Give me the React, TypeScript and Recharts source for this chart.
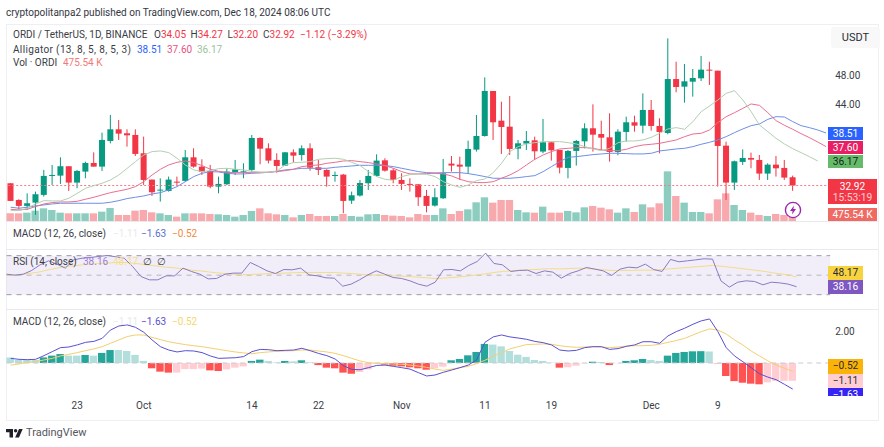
import React from "react";
import {
  ComposedChart,
  Bar,
  Line,
  Cell,
  XAxis,
  YAxis,
  ReferenceLine,
  ReferenceArea,
} from "recharts";

// ORDI / USDT daily, Sep 15 - Dec 18 2024
const opens = [
  33.23, 30.95, 30.14, 30.59, 31.64, 34.27, 34.27, 35.55, 33.32, 34.82,
  36.0, 35.5, 39.0, 40.59, 40.05, 39.82, 37.32, 33.73, 32.27, 32.18,
  33.45, 33.55, 36.77, 35.5, 34.91, 32.77, 33.09, 34.77, 34.77, 35.05,
  39.41, 38.0, 36.41, 35.64, 37.45, 37.09, 38.0, 35.41, 35.05, 34.23,
  34.41, 30.86, 31.55, 33.23, 34.23, 36.36, 35.0, 33.68, 33.14, 33.09,
  31.5, 30.18, 31.18, 35.91, 35.77, 35.5, 37.82, 39.68, 45.82, 41.77,
  40.95, 37.95, 38.64, 39.09, 37.55, 38.82, 37.77, 35.32, 37.64, 38.95,
  40.73, 39.95, 39.5, 37.5, 40.23, 41.55, 41.09, 43.23, 41.05, 40.09,
  47.45, 46.41, 47.09, 47.55, 48.73, 48.59, 38.36, 33.32, 36.14, 36.68,
  36.41, 34.55, 35.77, 35.32, 34.05,
];
const highs = [
  33.23, 31.05, 31.86, 32.09, 35.05, 35.73, 36.77, 35.55, 35.05, 36.18,
  37.45, 40.14, 42.55, 41.86, 40.59, 40.59, 39.59, 33.73, 33.91, 34.14,
  34.14, 37.77, 38.0, 36.5, 35.73, 34.14, 35.27, 36.41, 35.95, 39.82,
  39.5, 38.68, 37.32, 37.5, 37.86, 38.41, 38.68, 36.41, 35.14, 34.82,
  34.5, 32.09, 33.68, 35.05, 37.18, 36.64, 35.27, 34.59, 33.91, 33.09,
  32.32, 32.55, 36.55, 36.95, 36.86, 39.05, 42.55, 47.68, 45.82, 44.36,
  45.14, 39.14, 40.36, 39.59, 42.0, 38.91, 37.77, 37.77, 39.14, 41.41,
  44.0, 41.77, 42.77, 40.59, 42.32, 42.45, 45.5, 44.59, 42.09, 53.0,
  49.82, 49.5, 48.82, 50.59, 49.82, 48.59, 38.91, 36.32, 37.86, 37.41,
  37.09, 35.95, 36.95, 36.41, 34.27,
];
const lows = [
  30.82, 29.68, 29.59, 28.91, 31.41, 33.0, 33.14, 32.18, 32.55, 33.91,
  35.5, 34.91, 38.68, 39.14, 38.23, 36.95, 33.0, 31.5, 30.73, 32.09,
  32.91, 33.45, 35.36, 34.36, 32.55, 31.86, 33.0, 34.36, 33.91, 34.82,
  35.82, 35.95, 34.68, 35.59, 36.05, 36.32, 34.95, 34.36, 32.77, 33.45,
  29.14, 30.41, 31.41, 32.32, 34.14, 34.82, 33.23, 32.32, 32.09, 30.14,
  29.27, 30.05, 31.09, 34.82, 33.68, 34.5, 37.55, 39.59, 39.14, 37.23,
  37.09, 36.5, 37.77, 36.41, 37.32, 36.32, 34.59, 33.91, 35.64, 38.0,
  37.55, 37.77, 36.18, 37.05, 38.91, 40.27, 40.05, 40.41, 37.32, 39.91,
  45.64, 44.23, 45.05, 47.18, 46.64, 32.77, 30.95, 32.32, 35.73, 35.27,
  33.68, 33.68, 34.14, 33.68, 32.2,
];
const closes = [
  30.82, 30.14, 30.5, 31.73, 34.23, 34.36, 35.55, 33.32, 34.91, 36.0,
  35.5, 39.14, 40.59, 40.0, 39.77, 37.23, 33.68, 32.0, 32.36, 33.73,
  33.36, 36.77, 35.5, 34.77, 32.77, 33.14, 34.82, 35.14, 34.86, 39.41,
  37.95, 36.32, 35.59, 37.45, 37.0, 38.0, 35.36, 35.05, 34.14, 34.36,
  30.82, 31.59, 33.27, 34.23, 36.32, 34.95, 33.68, 33.14, 33.05, 31.32,
  30.14, 31.32, 34.59, 35.64, 35.5, 37.91, 39.68, 45.82, 41.55, 40.91,
  37.91, 38.68, 39.0, 37.59, 38.82, 37.73, 35.36, 37.64, 39.0, 40.73,
  39.86, 39.45, 37.5, 40.27, 41.55, 41.09, 43.23, 41.05, 40.23, 47.45,
  46.36, 47.14, 47.59, 48.73, 48.64, 38.32, 33.32, 36.23, 36.68, 36.45,
  34.55, 35.77, 35.27, 34.0, 32.92,
];
// volume in thousands
const volumes = [
  842, 842, 915, 1135, 1391, 1208, 915, 842, 842, 842,
  842, 1025, 1427, 659, 659, 1135, 1208, 952, 842, 659,
  476, 842, 842, 842, 769, 732, 659, 476, 659, 1098,
  1391, 842, 732, 659, 403, 659, 769, 549, 549, 549,
  769, 549, 476, 732, 769, 659, 586, 549, 403, 769,
  659, 659, 1391, 769, 1098, 1281, 2050, 2599, 2013, 2306,
  2306, 1208, 952, 915, 1574, 915, 915, 1098, 952, 1501,
  1647, 1464, 1281, 915, 1391, 988, 1830, 1501, 1940, 5453,
  2745, 2013, 988, 988, 842, 2379, 3038, 1757, 1208, 915,
  659, 549, 769, 659, 475.54,
];
// alligator lines run 4 days past the last candle
const jaw = [
  29.96, 29.82, 29.96, 30.14, 30.27, 30.41, 30.5, 30.5, 30.5, 30.5,
  30.5, 30.5, 30.64, 30.86, 31.14, 31.32, 31.5, 31.77, 31.95, 32.32,
  32.77, 33.45, 34.14, 34.59, 34.82, 34.77, 34.59, 34.5, 34.5, 34.59,
  34.64, 34.73, 34.86, 35.05, 35.14, 35.27, 35.27, 35.27, 35.27, 35.41,
  35.5, 35.59, 35.68, 35.68, 35.68, 35.64, 35.5, 35.27, 35.05, 34.82,
  34.68, 34.64, 34.68, 34.68, 34.68, 34.55, 34.36, 34.14, 33.91, 33.91,
  33.91, 34.0, 34.14, 34.27, 34.82, 35.5, 36.18, 36.77, 36.86, 37.0,
  37.14, 37.23, 37.32, 37.32, 37.27, 37.23, 37.23, 37.32, 37.64, 37.77,
  37.91, 38.0, 38.23, 38.55, 38.82, 39.14, 39.59, 40.14, 40.64, 41.09,
  41.32, 41.95, 42.32, 42.27, 41.64, 41.09, 40.82, 40.5, 40.09,
];
const teeth = [
  29.68, 29.59, 29.68, 30.05, 30.41, 30.59, 30.68, 30.68, 30.77, 31.05,
  31.32, 31.64, 31.95, 32.18, 32.41, 32.77, 33.45, 34.36, 35.14, 35.73,
  36.09, 36.27, 36.05, 35.64, 35.14, 34.86, 34.73, 34.68, 34.68, 34.73,
  34.73, 34.73, 34.82, 34.95, 35.14, 35.5, 35.64, 35.73, 35.95, 36.09,
  36.27, 36.32, 36.18, 36.05, 35.86, 35.64, 35.27, 34.82, 34.5, 34.5,
  34.55, 34.59, 34.5, 34.23, 33.77, 33.45, 33.32, 33.32, 33.45, 33.91,
  34.36, 34.95, 35.73, 36.5, 37.09, 37.55, 37.91, 38.0, 38.09, 38.09,
  38.0, 37.77, 37.68, 37.68, 37.86, 38.23, 38.45, 38.55, 38.68, 38.91,
  39.14, 39.59, 39.95, 40.05, 40.5, 41.5, 42.32, 42.86, 43.45, 44.05,
  43.86, 42.86, 41.77, 41.14, 40.59, 40.0, 39.45, 38.86, 38.23,
];
const lips = [
  29.5, 29.5, 29.82, 30.41, 30.86, 30.82, 30.82, 31.18, 31.86, 32.55,
  32.91, 33.23, 33.68, 34.36, 35.27, 36.18, 37.09, 37.55, 37.64, 37.41,
  36.64, 35.73, 35.05, 34.82, 34.95, 35.23, 35.27, 35.14, 35.05, 34.86,
  34.73, 34.73, 34.91, 35.73, 36.05, 36.09, 36.18, 36.5, 36.59, 36.64,
  36.5, 36.09, 35.64, 34.82, 34.14, 33.77, 33.64, 34.14, 34.41, 34.5,
  34.45, 34.14, 33.45, 33.0, 32.68, 33.0, 33.59, 33.82, 34.68, 35.95,
  37.55, 38.23, 38.59, 38.77, 38.91, 38.91, 38.91, 38.77, 38.59, 38.23,
  37.91, 37.68, 38.0, 38.77, 39.0, 39.0, 39.14, 39.5, 40.05, 40.64,
  40.82, 40.59, 41.64, 43.0, 43.77, 44.59, 45.5, 45.86, 44.59, 43.0,
  41.18, 40.27, 39.36, 38.59, 37.95, 37.41, 36.86, 36.27,
];
const rsi = [
  51.0, 50.0, 51.0, 54.8, 60.6, 64.7, 61.3, 57.2, 65.7, 67.4,
  68.1, 69.2, 70.2, 68.8, 67.4, 58.9, 48.6, 45.2, 45.2, 49.3,
  49.3, 57.2, 53.8, 51.0, 46.2, 46.6, 51.0, 52.1, 52.1, 63.0,
  58.9, 54.4, 51.7, 55.8, 55.5, 57.2, 50.3, 49.3, 47.3, 46.9,
  38.7, 40.8, 45.2, 50.3, 54.4, 51.0, 47.6, 46.6, 44.2, 40.8,
  38.7, 42.8, 55.5, 55.8, 54.4, 59.9, 64.0, 72.6, 62.0, 60.6,
  53.8, 54.8, 55.1, 51.7, 54.4, 53.1, 46.9, 51.7, 54.4, 57.9,
  56.2, 54.4, 49.7, 56.2, 58.2, 57.5, 61.3, 55.8, 53.8, 66.1,
  63.7, 64.7, 65.7, 66.8, 66.4, 44.2, 37.7, 42.8, 44.2, 43.5,
  40.1, 42.8, 42.1, 40.8, 38.16,
];
const rsiMa = [
  50.3, 50.3, 51.0, 52.1, 53.4, 55.5, 57.2, 58.9, 59.6, 60.6,
  61.3, 62.0, 62.3, 63.0, 63.0, 62.3, 61.3, 60.3, 59.2, 58.2,
  57.5, 56.5, 55.1, 54.4, 53.4, 52.4, 51.7, 51.0, 50.3, 50.7,
  51.0, 51.4, 51.7, 52.1, 52.4, 52.7, 52.7, 52.7, 52.7, 52.7,
  52.1, 51.7, 51.0, 50.3, 50.0, 49.7, 49.3, 49.0, 48.6, 47.9,
  47.3, 46.6, 46.9, 47.6, 48.3, 49.3, 50.3, 51.4, 52.7, 53.8,
  54.4, 55.1, 55.5, 55.8, 56.5, 56.5, 56.5, 56.8, 57.2, 56.8,
  56.2, 55.5, 54.8, 54.8, 54.8, 55.1, 55.1, 55.1, 55.8, 56.5,
  57.2, 57.9, 58.6, 59.2, 59.9, 59.2, 58.2, 57.2, 56.2, 55.1,
  54.1, 52.7, 51.4, 50.3, 48.17,
];
const macd = [
  0.29, 0.23, 0.21, 0.23, 0.46, 0.71, 0.96, 1.0, 1.13, 1.29,
  1.35, 1.54, 2.06, 2.31, 2.38, 2.23, 1.92, 1.44, 1.02, 0.81,
  0.69, 0.77, 0.75, 0.65, 0.44, 0.29, 0.31, 0.33, 0.4, 0.71,
  0.85, 0.83, 0.77, 0.79, 0.81, 0.92, 0.77, 0.6, 0.46, 0.25,
  -0.17, -0.4, -0.42, -0.29, -0.15, -0.13, -0.21, -0.29, -0.38, -0.6,
  -0.81, -0.75, -0.58, -0.44, -0.29, -0.13, 0.19, 1.29, 1.63, 1.75,
  1.63, 1.56, 1.48, 1.35, 1.27, 1.13, 0.81, 0.75, 0.79, 0.96,
  1.02, 1.02, 0.85, 0.9, 1.04, 1.13, 1.33, 1.33, 1.23, 1.69,
  1.96, 2.17, 2.42, 2.63, 2.75, 1.96, 0.96, 0.44, 0.08, -0.29,
  -0.67, -0.88, -1.04, -1.33, -1.63,
];
const signal = [
  -0.13, -0.06, 0.04, 0.08, 0.19, 0.29, 0.44, 0.54, 0.65, 0.77,
  0.88, 1.02, 1.23, 1.44, 1.65, 1.75, 1.75, 1.6, 1.46, 1.33,
  1.23, 1.15, 1.08, 1.02, 0.94, 0.85, 0.77, 0.69, 0.63, 0.58,
  0.65, 0.69, 0.73, 0.75, 0.77, 0.81, 0.81, 0.75, 0.69, 0.6,
  0.46, 0.29, 0.13, 0.02, -0.02, -0.04, -0.06, -0.08, -0.13, -0.19,
  -0.27, -0.38, -0.46, -0.38, -0.29, -0.21, -0.04, 0.17, 0.42, 0.65,
  0.88, 1.02, 1.15, 1.17, 1.19, 1.17, 1.08, 1.02, 0.98, 1.0,
  1.02, 1.0, 0.96, 1.0, 1.06, 1.08, 1.08, 1.1, 1.17, 1.29,
  1.4, 1.54, 1.75, 1.96, 2.13, 2.06, 1.81, 1.44, 1.13, 0.75,
  0.44, 0.13, -0.13, -0.33, -0.52,
];
const histogram = [
  0.35, 0.19, 0.19, 0.19, 0.35, 0.46, 0.56, 0.46, 0.46, 0.5,
  0.46, 0.63, 0.81, 0.81, 0.75, 0.5, 0.13, -0.33, -0.54, -0.6,
  -0.6, -0.38, -0.38, -0.35, -0.46, -0.5, -0.4, -0.29, -0.21, 0.13,
  0.21, 0.13, 0.04, 0.13, 0.1, 0.17, 0.04, -0.13, -0.29, -0.33,
  -0.6, -0.67, -0.56, -0.4, -0.04, -0.1, -0.17, -0.21, -0.27, -0.33,
  -0.42, -0.33, -0.23, 0.17, 0.25, 0.48, 0.69, 1.19, 1.15, 1.04,
  0.75, 0.52, 0.38, 0.19, 0.13, 0.02, -0.29, -0.27, -0.17, -0.02,
  0.08, 0.06, -0.13, -0.02, 0.13, 0.17, 0.25, 0.19, 0.13, 0.46,
  0.63, 0.69, 0.73, 0.74, 0.72, -0.02, -0.81, -1.13, -1.23, -1.29,
  -1.33, -1.21, -1.12, -1.11, -1.11,
];
const tickSlots = [8, 16, 29, 37, 47, 57, 65, 77, 85];
const tickNames = ["23", "Oct", "14", "22", "Nov", "11", "19", "Dec", "9"];
const SLOT_COUNT = 99;

const rows = Array.from({ length: SLOT_COUNT }, (_, i) => ({
  slot: i,
  open: opens[i],
  close: closes[i],
  high: highs[i],
  low: lows[i],
  range: i < opens.length ? [lows[i], highs[i]] : undefined,
  volume: volumes[i],
  jaw: jaw[i],
  teeth: teeth[i],
  lips: lips[i],
  rsi: rsi[i],
  rsiMa: rsiMa[i],
  macd: macd[i],
  signal: signal[i],
  histogram: histogram[i],
}));

const UP = "#089981";
const DOWN = "#f23645";
const WIDTH = 884;
const LEFT = 6.5;
const RIGHT = 53.8;
const FONT = "Roboto, sans-serif";

function Candle(props: any) {
  const { x, y, width, height, payload } = props;
  if (payload.open === undefined) return null;
  const k = height / (payload.high - payload.low);
  const top = y + (payload.high - Math.max(payload.open, payload.close)) * k;
  const bottom = y + (payload.high - Math.min(payload.open, payload.close)) * k;
  const fill = payload.close >= payload.open ? UP : DOWN;
  return (
    <g>
      <rect x={x + width / 2 - 0.5} y={y} width={1} height={height} fill={fill} />
      <rect x={x} y={top} width={width} height={Math.max(bottom - top, 1)} fill={fill} />
    </g>
  );
}

function histColor(i: number) {
  const v = histogram[i];
  const prev = i > 0 ? histogram[i - 1] : v;
  if (v >= 0) return v > prev ? "#26a69a" : "#b2dfdb";
  return v < prev ? "#ff5252" : "#ffcdd2";
}

function Txt({ x, y, color = "#3a3d46", size = 10, spacing = 0, children }: any) {
  return (
    <div
      style={{
        position: "absolute",
        left: x,
        top: y - 7,
        height: 14,
        lineHeight: "14px",
        fontSize: size,
        letterSpacing: spacing,
        fontFamily: FONT,
        color,
        whiteSpace: "nowrap",
      }}
    >
      {children}
    </div>
  );
}

function Tag({ top, height, bg, color = "#fff", width = 35, children }: any) {
  return (
    <div
      style={{
        position: "absolute",
        left: 828,
        top,
        width,
        height,
        background: bg,
        color,
        fontSize: 10.2,
        lineHeight: "13.5px",
        fontFamily: FONT,
        textAlign: "center",
        overflow: "hidden",
      }}
    >
      {children}
    </div>
  );
}

function Sep({ y }: { y: number }) {
  return (
    <div style={{ position: "absolute", left: 6, top: y, width: 872, height: 1, background: "#e9eaee" }} />
  );
}

function hiddenX(id: string) {
  return <XAxis xAxisId={id} dataKey="slot" hide />;
}

const axisTick = { fill: "#3a3d46", fontSize: 10, fontFamily: FONT };

export default function App() {
  return (
    <div style={{ position: "absolute", left: 0, top: 0, width: WIDTH, height: 447, background: "#fff", overflow: "hidden" }}>
      <Txt x={6} y={13} color="#33363f" size={10}>
        cryptopolitanpa2 published on TradingView.com, Dec 18, 2024 08:06 UTC
      </Txt>
      <div style={{ position: "absolute", left: 6, top: 24, width: 871, height: 395, border: "1px solid #eeeff2" }} />

      {/* price + volume */}
      <div style={{ position: "absolute", left: 0, top: 24 }}>
        <ComposedChart width={WIDTH} height={197} data={rows} margin={{ top: 0, right: 0, bottom: 0, left: LEFT }}>
          {hiddenX("vol")}
          {hiddenX("price")}
          <YAxis yAxisId="vol" hide domain={[0, 21630]} />
          <YAxis
            yAxisId="price"
            orientation="right"
            width={RIGHT}
            domain={[28.08, 54.96]}
            ticks={[44, 48]}
            tickFormatter={(v: number) => v.toFixed(2)}
            axisLine={false}
            tickLine={false}
            tickSize={0}
            tickMargin={5}
            tick={axisTick}
          />
          <Bar xAxisId="vol" yAxisId="vol" dataKey="volume" barSize={7.4} isAnimationActive={false}>
            {rows.map((r) => (
              <Cell key={r.slot} fill={r.close >= r.open ? "#8ccdc0" : "#f7a9ae"} />
            ))}
          </Bar>
          <ReferenceLine xAxisId="price" yAxisId="price" y={32.92} stroke="#f27b85" strokeDasharray="2 2" />
          <Bar xAxisId="price" yAxisId="price" dataKey="range" barSize={6} shape={Candle} isAnimationActive={false} />
          <Line xAxisId="price" yAxisId="price" dataKey="jaw" stroke="#6d8fe6" strokeWidth={1} dot={false} isAnimationActive={false} />
          <Line xAxisId="price" yAxisId="price" dataKey="teeth" stroke="#e8708f" strokeWidth={1} dot={false} isAnimationActive={false} />
          <Line xAxisId="price" yAxisId="price" dataKey="lips" stroke="#b3cfb2" strokeWidth={1} dot={false} isAnimationActive={false} />
        </ComposedChart>
      </div>

      {/* rsi */}
      <div style={{ position: "absolute", left: 0, top: 250 }}>
        <ComposedChart width={WIDTH} height={59} data={rows} margin={{ top: 0, right: RIGHT, bottom: 0, left: LEFT }}>
          <XAxis dataKey="slot" hide />
          <YAxis hide domain={[15.3, 75.8]} />
          <ReferenceArea y1={30} y2={70} fill="#7e57c2" fillOpacity={0.1} stroke="none" />
          <ReferenceLine y={70} stroke="#9a9ca5" strokeDasharray="5 5" />
          <ReferenceLine y={50} stroke="#b5b7bd" strokeDasharray="5 5" />
          <ReferenceLine y={30} stroke="#9a9ca5" strokeDasharray="5 5" />
          <Line dataKey="rsiMa" stroke="#f3dc86" strokeWidth={1} dot={false} isAnimationActive={false} />
          <Line dataKey="rsi" stroke="#8a7ac2" strokeWidth={1} dot={false} isAnimationActive={false} />
        </ComposedChart>
      </div>

      {/* macd + dates */}
      <div style={{ position: "absolute", left: 0, top: 310 }}>
        <ComposedChart width={WIDTH} height={109} data={rows} margin={{ top: 0, right: 0, bottom: 0, left: LEFT }}>
          <XAxis
            dataKey="slot"
            height={23}
            interval={0}
            ticks={tickSlots}
            tickFormatter={(v: number) => tickNames[tickSlots.indexOf(v)]}
            axisLine={false}
            tickLine={false}
            tickSize={0}
            tickMargin={6}
            tick={axisTick}
          />
          <YAxis
            orientation="right"
            width={RIGHT}
            domain={[-2.06, 3.31]}
            ticks={[0, 2]}
            tickFormatter={(v: number) => v.toFixed(2)}
            axisLine={false}
            tickLine={false}
            tickSize={0}
            tickMargin={5}
            tick={axisTick}
          />
          <ReferenceLine y={0} stroke="#c9cbd1" strokeDasharray="5 4" />
          <Bar dataKey="histogram" barSize={7.4} isAnimationActive={false}>
            {rows.map((r) => (
              <Cell key={r.slot} fill={histColor(r.slot)} />
            ))}
          </Bar>
          <Line dataKey="signal" stroke="#f4cf70" strokeWidth={1} dot={false} isAnimationActive={false} />
          <Line dataKey="macd" stroke="#5a4fd1" strokeWidth={1} dot={false} isAnimationActive={false} />
        </ComposedChart>
      </div>

      <Sep y={221} />
      <Sep y={249} />
      <Sep y={309} />

      {/* legends */}
      <Txt x={13} y={35}>ORDI / TetherUS, 1D, BINANCE</Txt>
      <Txt x={154} y={35}>O<span style={{ color: DOWN }}>34.05</span></Txt>
      <Txt x={190.5} y={35}>H<span style={{ color: DOWN }}>34.27</span></Txt>
      <Txt x={227.5} y={35}>L<span style={{ color: DOWN }}>32.20</span></Txt>
      <Txt x={263} y={35}>C<span style={{ color: DOWN }}>32.92</span></Txt>
      <Txt x={300} y={35} color={DOWN}>−1.12 (−3.29%)</Txt>
      <Txt x={13} y={49.5} spacing={0.35}>Alligator (13, 8, 5, 8, 5, 3)</Txt>
      <Txt x={137} y={49.5} color="#2962ff">38.51</Txt>
      <Txt x={167} y={49.5} color="#e4557f">37.60</Txt>
      <Txt x={197} y={49.5} color="#9cc39c">36.17</Txt>
      <Txt x={13} y={63}>Vol · ORDI</Txt>
      <Txt x={63} y={63} color="#ef7a7a">475.54 K</Txt>

      <Txt x={13} y={234}>MACD (12, 26, close)</Txt>
      <Txt x={113} y={234} color="#e8e9ec">−1.11</Txt>
      <Txt x={141} y={234} color="#5a6fd0">−1.63</Txt>
      <Txt x={172} y={234} color="#f08a3c">−0.52</Txt>

      <Txt x={13} y={262}>RSI (14, close)</Txt>
      <Txt x={83} y={262} color="#9a80d6">38.16</Txt>
      <Txt x={113} y={262} color="#f4e08a">48.17</Txt>
      <Txt x={143} y={262}>∅</Txt>
      <Txt x={157} y={262}>∅</Txt>

      <Txt x={13} y={322}>MACD (12, 26, close)</Txt>
      <Txt x={113} y={322} color="#e8e9ec">−1.11</Txt>
      <Txt x={141} y={322} color="#5a4fd1">−1.63</Txt>
      <Txt x={172} y={322} color="#f4d76e">−0.52</Txt>

      {/* currency button + last value tags */}
      <div
        style={{
          position: "absolute",
          left: 831,
          top: 27,
          width: 49,
          height: 21,
          background: "#f8f8f9",
          borderRadius: 3,
          color: "#2a2d35",
          fontSize: 11,
          lineHeight: "21px",
          textAlign: "center",
          fontFamily: FONT,
        }}
      >
        USDT
      </div>
      <Tag top={127} height={13} bg="#2962ff">38.51</Tag>
      <Tag top={141} height={13} bg="#e91e63">37.60</Tag>
      <Tag top={155} height={13} bg="#66bb6a" color="#13261a">36.17</Tag>
      <Tag top={179} height={25} bg={DOWN} width={49}>
        <div style={{ lineHeight: "11.5px", paddingTop: 1.5 }}>
          32.92
          <br />
          <span style={{ opacity: 0.75 }}>15:53:19</span>
        </div>
      </Tag>
      <Tag top={208} height={13} bg="#ef6a63" width={49}>475.54 K</Tag>
      <Tag top={266} height={14} bg="#f7d43f" color="#2a2d35">48.17</Tag>
      <Tag top={280} height={14} bg="#7e57c2">38.16</Tag>
      <Tag top={359} height={15} bg="#fbb308" color="#2a2d35">−0.52</Tag>
      <Tag top={374} height={14} bg="#ffcdd2" color="#2a2d35">−1.11</Tag>
      <Tag top={388} height={8} bg="#3624f5">−1.63</Tag>

      {/* lightning badge */}
      <svg style={{ position: "absolute", left: 784, top: 201 }} width={18} height={18} viewBox="0 0 18 18">
        <circle cx={9} cy={9} r={7.6} fill="#fff" stroke="#9c27b0" strokeWidth={1.4} />
        <path d="M10 4.5 6 10h2.6L8 13.5 12 8H9.4z" fill="#9c27b0" />
      </svg>

      {/* footer logo */}
      <svg style={{ position: "absolute", left: 6, top: 429 }} width={17} height={9} viewBox="0 0 17 9" fill="#1f2128">
        <path d="M0 0h7v8.5H3.5V3.2H0z" />
        <circle cx={9.6} cy={1.7} r={1.7} />
        <path d="M13 0h3.7L13 8.5H9.1z" />
      </svg>
      <Txt x={26} y={433} color="#555861" size={11}>TradingView</Txt>
    </div>
  );
}
